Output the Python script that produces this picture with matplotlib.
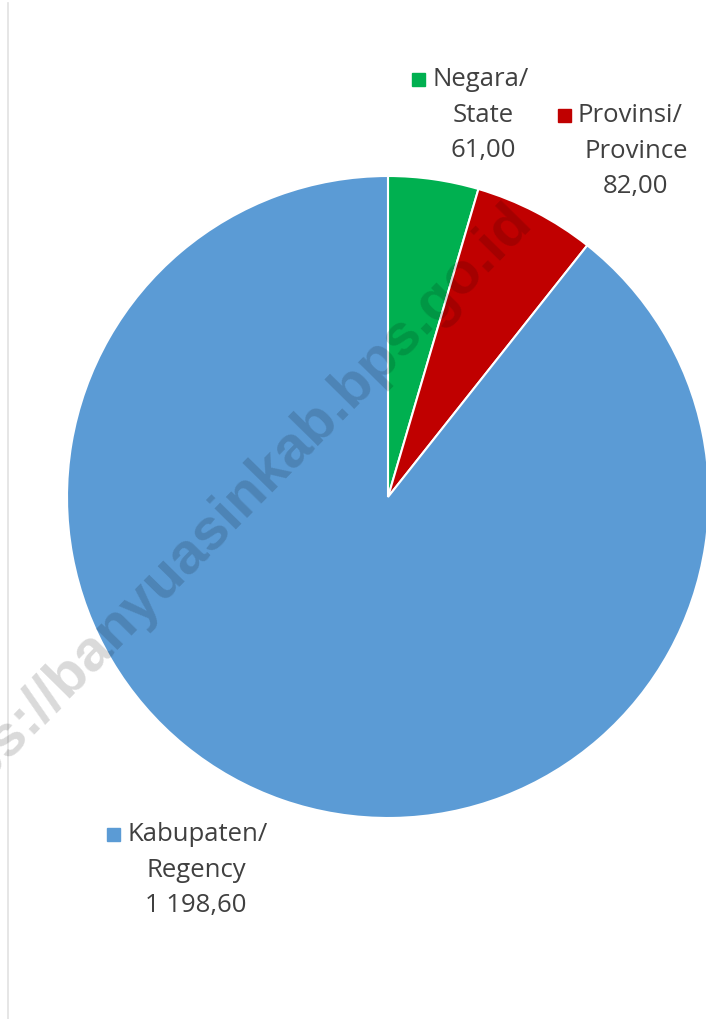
import matplotlib
matplotlib.use("Agg")
import matplotlib.pyplot as plt
from matplotlib.patches import Rectangle

# data
labels_first = ["Negara/", "Provinsi/", "Kabupaten/"]
labels_second = ["State", "Province", "Regency"]
value_text = ["61,00", "82,00", "1 198,60"]
values = [61.00, 82.00, 1198.60]
colors = ["#00B050", "#C00000", "#5B9BD5"]

W, H = 706, 1020
plt.rcParams['font.family'] = ['Open Sans', 'DejaVu Sans']

fig = plt.figure(figsize=(W / 100, H / 100), dpi=100)
ax = fig.add_axes([0, 0, 1, 1])
ax.set_xlim(0, W)
ax.set_ylim(0, H)
ax.set_aspect('equal')
ax.axis('off')


def Y(y):
    # pixel row (from top) -> data y
    return H - y


# faint frame line on the left
ax.plot([8, 8], [Y(4), Y(1020)], color="#e2e2e2", lw=1.2)

ax.pie(values, colors=colors, startangle=90, counterclock=False,
       center=(388, Y(498)), radius=321,
       wedgeprops=dict(edgecolor="white", linewidth=1.5))
ax.set_xlim(0, W)
ax.set_ylim(0, H)

# labels: key square + first line, then two centred lines
# (key x, first line y, centre x of the block)
lab_pos = [(418, 80, 483), (564, 116, 636), (113, 835, 196)]
txt_color = "#404040"
fs = 18.5
for i, (kx, ky, cx) in enumerate(lab_pos):
    ax.add_patch(Rectangle((kx - 6.5, Y(ky) - 6.5), 13, 13,
                           color=colors[i], zorder=5))
    ax.text(kx + 14, Y(ky), labels_first[i], ha='left', va='center',
            fontsize=fs, color=txt_color, zorder=5)
    ax.text(cx, Y(ky + 35.5), labels_second[i], ha='center', va='center',
            fontsize=fs, color=txt_color, zorder=5)
    ax.text(cx, Y(ky + 71), value_text[i], ha='center', va='center',
            fontsize=fs, color=txt_color, zorder=5)

# watermark
ax.text(221, Y(519), "https://banyuasinkab.bps.go.id", rotation=45.5,
        rotation_mode='anchor', ha='center', va='center',
        fontsize=42, fontweight='bold', color="black", alpha=0.15,
        family=['Liberation Sans', 'DejaVu Sans'], zorder=6)

fig.savefig("out.png", dpi=100, facecolor="white")
